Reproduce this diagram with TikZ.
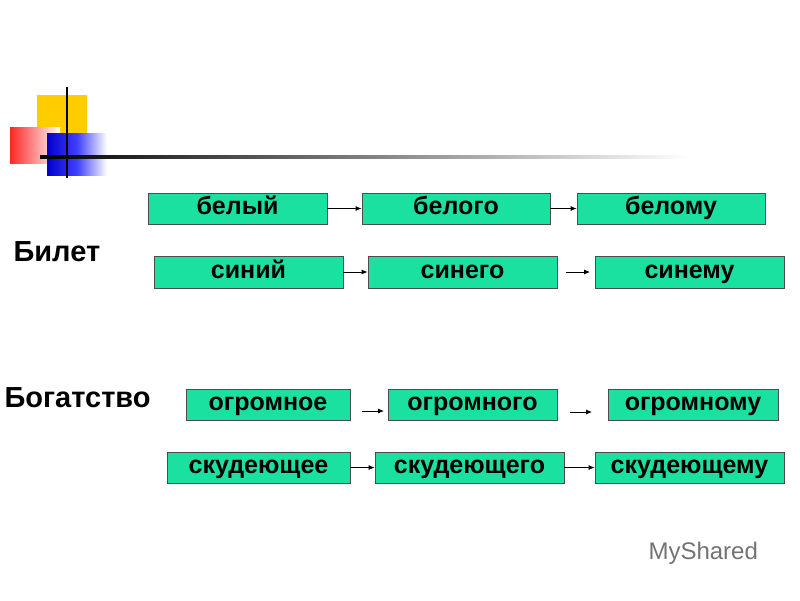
\documentclass[tikz,border=0pt]{standalone}
\usepackage{fontspec}
\setmainfont{Liberation Sans}
\usetikzlibrary{arrows.meta}
\definecolor{boxgreen}{RGB}{26,224,160}
\definecolor{deco}{RGB}{255,204,0}
\tikzset{
  wbox/.style={draw=black!70, line width=0.8pt, fill=boxgreen, inner sep=0pt, text height=17pt, text depth=5pt, font=\bfseries\fontsize{25}{28}\selectfont},
  arr/.style={-{Latex[length=6pt,width=5pt]}, line width=0.8pt},
  lbl/.style={font=\bfseries\fontsize{29}{32}\selectfont, anchor=west}
}
\begin{document}
\begin{tikzpicture}[x=1pt,y=-1pt]
\useasboundingbox (0,0) rectangle (800,600);
% decoration
\fill[deco] (37,95) rectangle (87,145);
\shade[left color=red!85, right color=white] (10,127) rectangle (60,163);
\shade[left color=blue!80!black, right color=white, middle color=blue!75] (47,133) rectangle (107,175);
\draw[line width=1.5pt] (67,87) -- (67,178);
\shade[left color=black, right color=white] (40,155.5) rectangle (690,158);
% boxes
\newcommand{\wb}[6]{\node[wbox, minimum width=#4-#3, minimum height=#6-#5] (#1) at ({(#3+#4)/2},{(#5+#6)/2}) {#2};}
\wb{a1}{белый}{148}{327}{193}{224}
\wb{a2}{белого}{362}{550}{193}{224}
\wb{a3}{белому}{577}{765}{193}{224}
\wb{b1}{синий}{154}{343}{256}{288}
\wb{b2}{синего}{368}{557}{256}{288}
\wb{b3}{синему}{595}{784}{256}{288}
\wb{c1}{огромное}{186}{350}{389}{420}
\wb{c2}{огромного}{388}{557}{389}{420}
\wb{c3}{огромному}{608}{778}{389}{420}
\wb{d1}{скудеющее}{167}{350}{452}{483}
\wb{d2}{скудеющего}{375}{564}{452}{483}
\wb{d3}{скудеющему}{595}{784}{452}{483}
% arrows
\draw[arr] (a1.east) -- (a2.west);
\draw[arr] (a2.east) -- (a3.west);
\draw[arr] (b1.east) -- (b2.west);
\coordinate (b2s) at (566,272); \coordinate (b2e) at (590,272);
\draw[arr] (b2s) -- (b2e);
\coordinate (c1s) at (362,411); \coordinate (c1e) at (384,411);
\draw[arr] (c1s) -- (c1e);
\coordinate (c2s) at (570,412); \coordinate (c2e) at (592,412);
\draw[arr] (c2s) -- (c2e);
\draw[arr] (d1.east) -- (d2.west);
\draw[arr] (d2.east) -- (d3.west);
% labels
\node[lbl] (l1) at (10,252) {Билет};
\node[lbl] (l2) at (1,398) {Богатство};
\node[font=\fontsize{24}{26}\selectfont, text=black!55, anchor=west] (ms) at (645,553) {MyShared};
\end{tikzpicture}
\end{document}
